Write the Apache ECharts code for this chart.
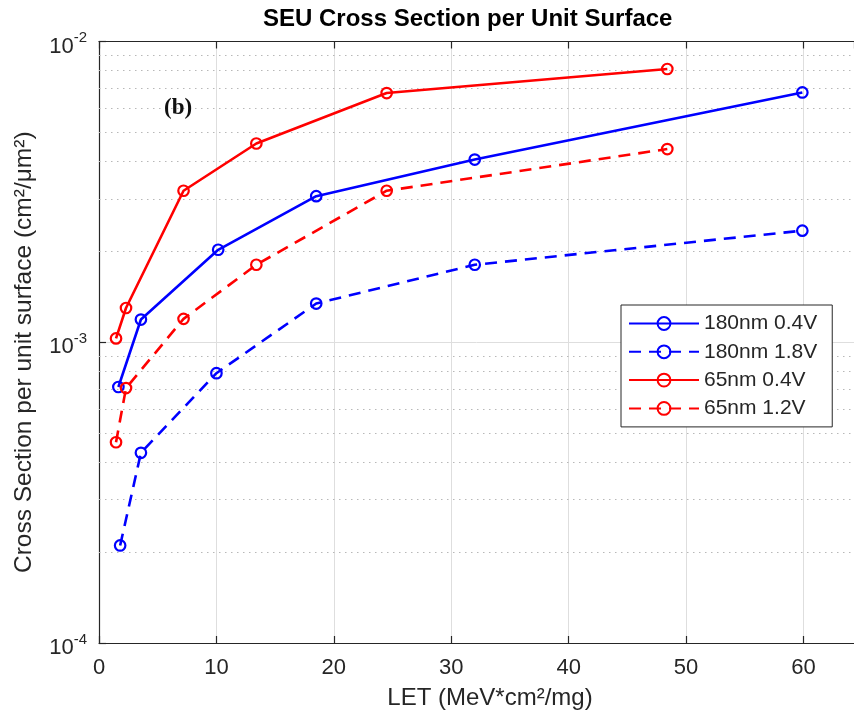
<!DOCTYPE html>
<html>
<head>
<meta charset="utf-8">
<script src="https://cdn.jsdelivr.net/npm/echarts@6/dist/echarts.min.js"></script>
<style>
html,body{margin:0;padding:0;background:#fff;}
#chart{width:854px;height:715px;}
</style>
</head>
<body>
<div id="chart"></div>
<script>
// ---- data ----
const let180 = [1.65, 3.57, 10.15, 18.5, 32.0, 59.9];
const let180b = [1.8, 3.57, 10.0, 18.5, 32.0, 59.9];
const let65 = [1.45, 2.3, 7.2, 13.4, 24.5, 48.4];
const cs180_04 = [7.1e-4, 1.19e-3, 2.03e-3, 3.06e-3, 4.05e-3, 6.77e-3];
const cs180_18 = [2.11e-4, 4.29e-4, 7.89e-4, 1.345e-3, 1.81e-3, 2.35e-3];
const cs65_04 = [1.03e-3, 1.30e-3, 3.19e-3, 4.58e-3, 6.74e-3, 8.10e-3];
const cs65_12 = [4.65e-4, 7.04e-4, 1.196e-3, 1.81e-3, 3.19e-3, 4.39e-3];
const seriesNames = ['180nm 0.4V', '180nm 1.8V', '65nm 0.4V', '65nm 1.2V'];
const xTicks = [0, 10, 20, 30, 40, 50, 60];
const minorGridValues = [2e-4,3e-4,4e-4,5e-4,6e-4,7e-4,8e-4,9e-4,2e-3,3e-3,4e-3,5e-3,6e-3,7e-3,8e-3,9e-3];

const FONT = '"Liberation Sans", Arial, Helvetica, sans-serif';
const TXT = '#262626';
const X_MIN = 0, X_MAX = 64.3;
const pair = (xs, ys) => xs.map((x, i) => [x, ys[i]]);

function mkSeries(name, xs, ys, color, dashed) {
  return {
    name: name, type: 'line', data: pair(xs, ys), z: 3,
    symbol: 'circle', symbolSize: 10.5, showAllSymbol: true,
    lineStyle: { color: color, width: 2.6, type: dashed ? [12, 8] : 'solid' },
    itemStyle: { color: 'rgba(255,255,255,0)', borderColor: color, borderWidth: 2.2 },
    emphasis: { disabled: true }
  };
}

const chart = echarts.init(document.getElementById('chart'), null, { renderer: 'canvas' });
const option = {
  animation: false,
  backgroundColor: '#fff',
  title: {
    text: 'SEU Cross Section per Unit Surface',
    left: 263, top: 7, padding: 0,
    textStyle: { fontFamily: FONT, fontSize: 24, fontWeight: 'bold', color: '#000' }
  },
  grid: { left: 99, top: 41.5, bottom: 72, right: 0, containLabel: false },
  legend: {
    orient: 'vertical', left: 621, top: 305,
    data: seriesNames,
    itemWidth: 70, itemHeight: 16, itemGap: 7.3,
    padding: [8, 15, 8, 7],
    borderColor: TXT, borderWidth: 1, backgroundColor: '#fff',
    textStyle: { fontFamily: FONT, fontSize: 21, lineHeight: 21, color: TXT },
    z: 10
  },
  xAxis: [{
    type: 'value', min: X_MIN, max: X_MAX, interval: 10, position: 'bottom',
    name: 'LET (MeV*cm²/mg)', nameLocation: 'middle', nameGap: 43,
    nameTextStyle: { fontFamily: FONT, fontSize: 24, color: TXT, padding: [0, 0, 0, 27] },
    axisLine: { show: true, lineStyle: { color: TXT, width: 1.2 } },
    axisTick: { show: true, inside: true, length: 7, lineStyle: { color: TXT, width: 1.2 } },
    axisLabel: { fontFamily: FONT, fontSize: 22, color: TXT, margin: 14, showMaxLabel: false,
      formatter: v => (xTicks.indexOf(v) >= 0 ? String(v) : '') },
    splitLine: { show: true, lineStyle: { color: '#dedede', width: 1 } }
  }, {
    type: 'value', min: X_MIN, max: X_MAX, interval: 10, position: 'top',
    axisLine: { show: true, lineStyle: { color: TXT, width: 1.2 } },
    axisTick: { show: true, inside: true, length: 7, lineStyle: { color: TXT, width: 1.2 } },
    axisLabel: { show: false },
    splitLine: { show: false }
  }],
  yAxis: {
    type: 'log', logBase: 10, min: 1e-4, max: 1e-2,
    name: 'Cross Section per unit surface (cm²/μm²)', nameLocation: 'middle', nameGap: 62,
    nameTextStyle: { fontFamily: FONT, fontSize: 24.5, color: TXT, padding: [0, 20, 0, 0] },
    axisLine: { show: true, lineStyle: { color: TXT, width: 1.2 } },
    axisTick: { show: true, inside: true, length: 7, lineStyle: { color: TXT, width: 1.2 } },
    axisLabel: {
      margin: 12, color: TXT,
      formatter: v => '{b|10}{s|' + Math.round(Math.log10(v)) + '}',
      rich: {
        b: { fontFamily: FONT, fontSize: 22, lineHeight: 22, padding: [10, 0, 0, 0], color: TXT },
        s: { fontFamily: FONT, fontSize: 15, lineHeight: 15, padding: [0, 0, 0, 0], verticalAlign: 'top', color: TXT }
      }
    },
    splitLine: { show: true, lineStyle: { color: '#dedede', width: 1 } }
  },
  graphic: [{
    type: 'text', left: 164, top: 97, z: 5,
    style: { text: '(b)', font: 'bold 23px "Liberation Serif", "Times New Roman", serif', fill: '#111' }
  }],
  series: [
    {
      name: 'minorgrid', type: 'lines', coordinateSystem: 'cartesian2d', z: 1, silent: true,
      polyline: false,
      lineStyle: { color: '#b8b8b8', width: 1, type: [1.5, 4.5], opacity: 1 },
      emphasis: { disabled: true },
      data: minorGridValues.map(v => ({ coords: [[X_MIN, v], [X_MAX, v]] }))
    },
    mkSeries(seriesNames[0], let180, cs180_04, '#0000ff', false),
    mkSeries(seriesNames[1], let180b, cs180_18, '#0000ff', true),
    mkSeries(seriesNames[2], let65, cs65_04, '#ff0000', false),
    mkSeries(seriesNames[3], let65, cs65_12, '#ff0000', true)
  ]
};
chart.setOption(option);
</script>
</body>
</html>
